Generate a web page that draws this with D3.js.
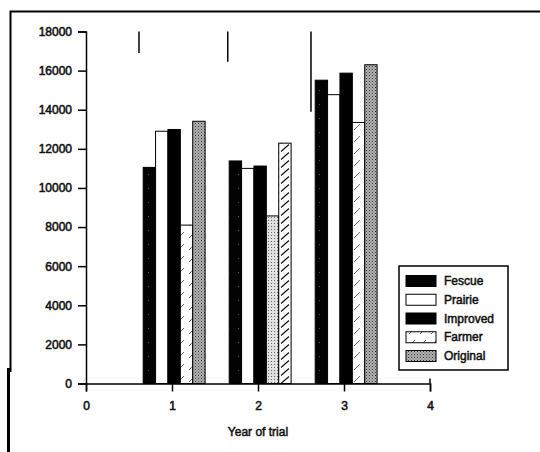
<!doctype html>
<html lang="en">

<head>
    <meta charset="UTF-8" />
    <script src="https://d3js.org/d3.v7.min.js"></script>
    <title>Year of trial</title>
    <style>
        body { margin: 0; background: #fff; overflow: hidden; }
        svg { display: block; }
        text { font-family: "Liberation Sans", Arial, sans-serif; }
    </style>
</head>

<body>
    <div id="chart"></div>
    <script>
        // data
        const years = [1, 2, 3]
        const series = ["Fescue", "Prairie", "Improved", "Farmer", "Original"]
        const fescue = [11050, 11380, 15510]
        const prairie = [12900, 11000, 14770]
        const improved = [12990, 11120, 15870]
        const farmer = [8100, 8570, 13350]
        const original = [13410, 12290, 16300]
        const values = [fescue, prairie, improved, farmer, original]

        // the short vertical bars above each group (x position, length down from 18000)
        const lsdPos = [0.616, 1.648, 2.616]
        const lsdLen = [1100, 1550, 4100]

        const yTicks = [0, 2000, 4000, 6000, 8000, 10000, 12000, 14000, 16000, 18000]
        const xTicks = [0, 1, 2, 3, 4]

        // fill per series; in year 2 the scan shows farmer/original patterns swapped
        const fills = ["url(#fescue)", "#fff", "#000", "url(#hatch)", "url(#stipple)"]
        const year2Fills = ["url(#fescue)", "#fff", "#000", "url(#dots)", "url(#hatchDense)"]

        const W = 540, H = 452
        const x = d3.scaleLinear().domain([0, 4]).range([86, 430])
        const y = d3.scaleLinear().domain([0, 18000]).range([383.5, 31.5])

        const svg = d3.select("#chart").append("svg")
            .attr("width", W)
            .attr("height", H)

        svg.append("rect").attr("width", W).attr("height", H).attr("fill", "#fff")

        // patterns
        const defs = svg.append("defs")
        const fp = defs.append("pattern").attr("id", "fescue").attr("patternUnits", "userSpaceOnUse")
            .attr("width", 9).attr("height", 14)
        fp.append("rect").attr("width", 9).attr("height", 14).attr("fill", "#030303")
        fp.append("rect").attr("x", 4).attr("y", 6).attr("width", 1).attr("height", 1).attr("fill", "#555")

        const hp = defs.append("pattern").attr("id", "hatch").attr("patternUnits", "userSpaceOnUse")
            .attr("width", 11).attr("height", 12)
        hp.append("rect").attr("width", 11).attr("height", 12).attr("fill", "#fff")
        hp.append("line").attr("x1", 2).attr("y1", 10).attr("x2", 8).attr("y2", 4)
            .attr("stroke", "#444").attr("stroke-width", 0.8)

        const hd = defs.append("pattern").attr("id", "hatchDense").attr("patternUnits", "userSpaceOnUse")
            .attr("width", 10).attr("height", 8)
        hd.append("rect").attr("width", 10).attr("height", 8).attr("fill", "#fff")
        hd.append("line").attr("x1", 1).attr("y1", 7.5).attr("x2", 9).attr("y2", 0.5)
            .attr("stroke", "#111").attr("stroke-width", 1.2)

        const sp = defs.append("pattern").attr("id", "stipple").attr("patternUnits", "userSpaceOnUse")
            .attr("width", 3).attr("height", 3)
        sp.append("rect").attr("width", 3).attr("height", 3).attr("fill", "#b4b4b4")
        sp.append("rect").attr("x", 0).attr("y", 0).attr("width", 1).attr("height", 1).attr("fill", "#333")
        sp.append("rect").attr("x", 1.5).attr("y", 1.5).attr("width", 1).attr("height", 1).attr("fill", "#555")

        const dp = defs.append("pattern").attr("id", "dots").attr("patternUnits", "userSpaceOnUse")
            .attr("width", 3).attr("height", 3)
        dp.append("rect").attr("width", 3).attr("height", 3).attr("fill", "#e0e0e0")
        dp.append("rect").attr("x", 1).attr("y", 1).attr("width", 1).attr("height", 1).attr("fill", "#666")

        // outer frame of the scan
        svg.append("path")
            .attr("d", `M${W},11.5 H10.5 V372`)
            .attr("fill", "none")
            .attr("stroke", "#000")
            .attr("stroke-width", 2)
        svg.append("rect").attr("x", 7).attr("y", 368).attr("width", 3).attr("height", H - 368).attr("fill", "#000")

        // bars
        const bw = 0.144
        const offset = 0.025
        years.forEach((yr, i) => {
            const start = yr + offset - bw * series.length / 2
            series.forEach((s, j) => {
                const v = values[j][i]
                svg.append("rect")
                    .attr("x", x(start + j * bw))
                    .attr("y", y(v))
                    .attr("width", x(bw) - x(0))
                    .attr("height", y(0) - y(v))
                    .attr("fill", yr === 2 ? year2Fills[j] : fills[j])
                    .attr("stroke", "#000")
                    .attr("stroke-width", 1)
            })
        })

        // short vertical bars at the top
        lsdPos.forEach((p, i) => {
            svg.append("line")
                .attr("x1", x(p)).attr("x2", x(p))
                .attr("y1", y(18000)).attr("y2", y(18000 - lsdLen[i]))
                .attr("stroke", "#000").attr("stroke-width", 1.5)
        })

        // axes
        const xAxis = svg.append("g")
            .attr("transform", `translate(0,${y(0)})`)
            .call(d3.axisBottom(x).tickValues(xTicks).tickFormat(d3.format("d"))
                .tickSize(8).tickSizeOuter(8).tickPadding(10))
        const yAxis = svg.append("g")
            .attr("transform", `translate(${x(0)},0)`)
            .call(d3.axisLeft(y).tickValues(yTicks).tickFormat(d3.format("d"))
                .tickSize(8).tickSizeOuter(8).tickPadding(6))

        for (const g of [xAxis, yAxis]) {
            g.selectAll("path, line").attr("stroke", "#000").attr("stroke-width", 1.5)
            g.selectAll("text").attr("fill", "#111").attr("font-size", 12)
                .attr("font-family", "Liberation Sans, Arial, sans-serif")
                .attr("stroke", "#111").attr("stroke-width", 0.55)
        }

        // small upward end tick at x = 4, as in the scan
        svg.append("line")
            .attr("x1", x(4)).attr("x2", x(4))
            .attr("y1", y(0)).attr("y2", y(0) - 5)
            .attr("stroke", "#000").attr("stroke-width", 1.5)

        svg.append("text")
            .attr("x", x(2))
            .attr("y", 436)
            .attr("text-anchor", "middle")
            .attr("font-size", 12)
            .attr("fill", "#111")
            .attr("stroke", "#111").attr("stroke-width", 0.5)
            .text("Year of trial")

        // legend
        const legend = svg.append("g")
        legend.append("rect")
            .attr("x", 399).attr("y", 266).attr("width", 109).attr("height", 104)
            .attr("fill", "#fff").attr("stroke", "#000").attr("stroke-width", 1.5)
        series.forEach((s, j) => {
            const cy = 281 + j * 18.75
            legend.append("rect")
                .attr("x", 406).attr("y", cy - 5.5).attr("width", 30).attr("height", 11)
                .attr("fill", fills[j]).attr("stroke", "#000").attr("stroke-width", 1)
            legend.append("text")
                .attr("x", 444).attr("y", cy)
                .attr("dominant-baseline", "central")
                .attr("font-size", 12)
                .attr("fill", "#111")
                .attr("stroke", "#111").attr("stroke-width", 0.5)
                .text(s)
        })
    </script>
</body>

</html>
